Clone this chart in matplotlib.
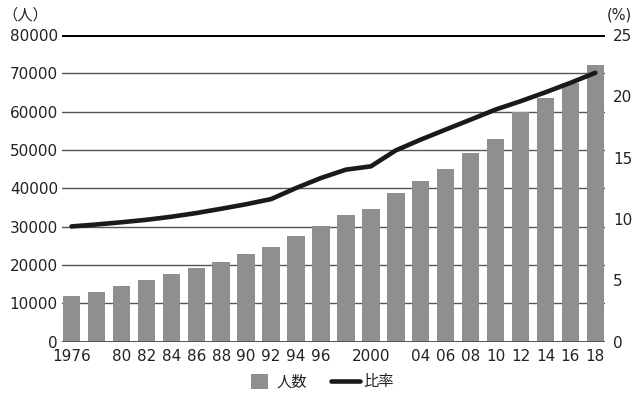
import matplotlib
matplotlib.use("Agg")
import matplotlib.pyplot as plt
import numpy as np

plt.rcParams['font.family'] = ['DejaVu Sans', 'Noto Sans CJK JP']

years = list(range(1976, 2019, 2))
year_labels = ['1976', '', '80', '82', '84', '86', '88', '90', '92', '94',
               '96', '', '2000', '', '04', '06', '08', '10', '12', '14',
               '16', '18']
persons = [11900, 13000, 14500, 16050, 17700, 19200, 20900, 23000, 24700,
           27700, 30300, 33000, 34700, 38800, 42000, 45150, 49250, 52900,
           59900, 63500, 67600, 72250]
ratio = [9.40, 9.56, 9.74, 9.94, 10.19, 10.49, 10.84, 11.21, 11.63, 12.53,
         13.35, 14.03, 14.30, 15.60, 16.48, 17.30, 18.11, 18.93, 19.61,
         20.34, 21.11, 21.93]
left_ticks = list(range(0, 80001, 10000))
right_ticks = [0, 5, 10, 15, 20, 25]

BAR_COLOR = '#8e8f91'
GRID_COLOR = '#555555'
TEXT_COLOR = '#222222'


def main() -> None:
    fig = plt.figure(figsize=(6.4, 3.95), dpi=100)
    ax = fig.add_axes([0.097, 0.135, 0.848, 0.776])
    x = np.arange(len(years))

    bars = ax.bar(x, persons, width=0.7, color=BAR_COLOR, zorder=2)
    for v in left_ticks:
        if v == 80000:
            ax.axhline(v, color='black', lw=2.2, zorder=3)
        elif v == 0:
            ax.axhline(v, color=GRID_COLOR, lw=1.4, zorder=3)
        else:
            ax.axhline(v, color=GRID_COLOR, lw=1.0, zorder=1)

    ax.set_xlim(-0.38, len(years) - 0.62)
    ax.set_ylim(0, 80000)
    ax.set_yticks(left_ticks)
    ax.set_yticklabels([str(v) for v in left_ticks])
    ax.set_xticks(x)
    ax.set_xticklabels(year_labels)
    ax.tick_params(axis='both', length=0, labelsize=11, colors=TEXT_COLOR)
    ax.tick_params(axis='y', pad=3)
    ax.tick_params(axis='x', pad=5)
    for s in ax.spines.values():
        s.set_visible(False)

    ax2 = ax.twinx()
    line, = ax2.plot(x, ratio, color='#1a1a1a', lw=3.3,
                     solid_capstyle='round', solid_joinstyle='round',
                     zorder=4)
    ax2.set_ylim(0, 25)
    ax2.set_yticks(right_ticks)
    ax2.set_yticklabels([str(v) for v in right_ticks])
    ax2.tick_params(axis='y', length=0, pad=6, labelsize=11,
                    colors=TEXT_COLOR)
    for s in ax2.spines.values():
        s.set_visible(False)

    fig.text(0.004, 0.962, '（人）', fontsize=11, ha='left', va='center',
             color=TEXT_COLOR)
    fig.text(0.987, 0.962, '(%)', fontsize=10.5, ha='right', va='center',
             color=TEXT_COLOR)

    fig.legend(handles=[bars], labels=['人数'], loc='center',
               bbox_to_anchor=(0.436, 0.033), frameon=False, fontsize=11,
               handlelength=1.1, handleheight=1.1, handletextpad=0.6,
               labelcolor=TEXT_COLOR)
    fig.legend(handles=[line], labels=['比率'], loc='center',
               bbox_to_anchor=(0.566, 0.033), frameon=False, fontsize=11,
               handlelength=1.9, handletextpad=0.2, labelcolor=TEXT_COLOR)

    fig.savefig('out.png', dpi=100)


if __name__ == "__main__":
    main()
